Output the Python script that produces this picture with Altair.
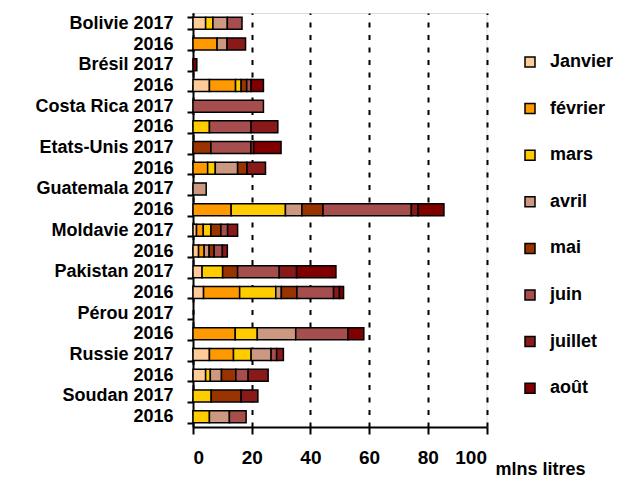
import altair as alt
import pandas as pd

rows = ["Bolivie 2017", "Bolivie 2016", "Brésil 2017", "Brésil 2016",
        "Costa Rica 2017", "Costa Rica 2016", "Etats-Unis 2017", "Etats-Unis 2016",
        "Guatemala 2017", "Guatemala 2016", "Moldavie 2017", "Moldavie 2016",
        "Pakistan 2017", "Pakistan 2016", "Pérou 2017", "Pérou 2016",
        "Russie 2017", "Russie 2016", "Soudan 2017", "Soudan 2016"]

months = ["Janvier", "février", "mars", "avril", "mai", "juin", "juillet", "août"]

janvier = [4.3, 0, 0, 5.6, 0, 0, 0, 0, 0, 0, 1.2, 1.9, 3.1, 3.6, 0, 0, 5.6, 4.3, 0, 0]
fevrier = [0, 8.2, 0, 8.9, 0, 0, 0, 5.0, 0, 13.0, 2.3, 1.9, 0, 12.3, 0, 14.4, 8.2, 0, 0, 0]
mars = [2.5, 0, 0, 1.9, 0, 5.6, 0, 2.6, 0, 18.5, 2.6, 0, 7.0, 12.3, 0, 7.5, 6.0, 1.6, 6.2, 5.6]
avril = [4.9, 3.4, 0, 0, 0, 0, 0, 7.6, 4.5, 5.6, 0, 1.7, 0, 1.9, 0, 13.1, 6.8, 3.8, 0, 6.8]
mai = [0, 0, 0, 1.9, 0, 0, 6.1, 3.2, 0, 7.2, 3.4, 1.7, 5.1, 5.3, 0, 0, 0, 4.9, 10.2, 0]
juin = [5.0, 0, 0, 1.5, 24.0, 14.2, 13.6, 0, 0, 30.1, 2.3, 2.8, 14.2, 12.5, 0, 17.8, 1.9, 4.2, 0, 5.7]
juillet = [0, 6.3, 0, 0, 0, 9.1, 1.0, 6.3, 0, 2.3, 3.4, 1.7, 5.9, 2.0, 0, 0, 2.3, 6.8, 5.7, 0]
aout = [0, 0, 1.3, 4.2, 0, 0, 9.3, 0, 0, 8.8, 0, 0, 13.4, 1.4, 0, 5.4, 0, 0, 0, 0]

series = [janvier, fevrier, mars, avril, mai, juin, juillet, aout]
colors = ["#FFCC99", "#FF9900", "#FFCC00", "#CC9980", "#993300", "#A64D4D", "#8A1A1A", "#800000"]
x_ticks = [0, 20, 40, 60, 80, 100]

records = []
for i, r in enumerate(rows):
    for mi, (m, arr) in enumerate(zip(months, series)):
        v = arr[i]
        if v > 0:
            records.append({"row": r, "month": m, "mi": mi, "value": v})
df = pd.DataFrame(records)

FONT = "Liberation Sans, Arial, sans-serif"

chart = alt.Chart(df).mark_bar(stroke="black", strokeWidth=1.5).encode(
    x=alt.X(
        "value:Q", stack="zero",
        scale=alt.Scale(domain=[0, 100], nice=False),
        axis=alt.Axis(
            values=x_ticks, grid=True, gridColor="black", gridDash=[5, 7.5], gridWidth=2,
            domainColor="black", domainWidth=2, tickColor="black", tickWidth=2, tickSize=7,
            labelFont=FONT, labelFontWeight="bold", labelFontSize=19, labelColor="black",
            labelPadding=14, title="mlns litres", titleFont=FONT, titleFontSize=18,
            titleFontWeight="bold", titleColor="black", titleX=347, titleY=47,
            titleAlign="center", titleBaseline="alphabetic",
        ),
    ),
    y=alt.Y(
        "row:N", sort=rows,
        scale=alt.Scale(domain=rows, paddingInner=0.42, paddingOuter=0.21),
        axis=alt.Axis(
            title=None, tickBand="extent", grid=False,
            labelExpr="indexof(datum.label, '2016') >= 0 ? '2016' : datum.label",
            domainColor="black", domainWidth=2, tickColor="black", tickWidth=2, tickSize=6,
            labelFont=FONT, labelFontWeight="bold", labelFontSize=18, labelColor="black",
            labelPadding=14,
        ),
    ),
    color=alt.Color(
        "month:N",
        scale=alt.Scale(domain=months, range=colors),
        legend=alt.Legend(
            title=None, orient="none", legendX=328, legendY=40, padding=0,
            symbolType="square", symbolSize=100, symbolStrokeColor="black",
            symbolStrokeWidth=1.5, labelFont=FONT, labelFontSize=18,
            labelFontWeight="bold", labelColor="black", rowPadding=28.6, labelOffset=11,
        ),
    ),
    order=alt.Order("mi:Q", sort="ascending"),
).properties(
    width=293.5, height=414,
    autosize=alt.AutoSizeParams(type="none"),
    padding={"left": 185, "top": 5, "right": 127, "bottom": 53},
).configure_view(stroke=None).configure(background="white")

chart.save("out.html", embed_options={"renderer": "svg", "actions": False})
